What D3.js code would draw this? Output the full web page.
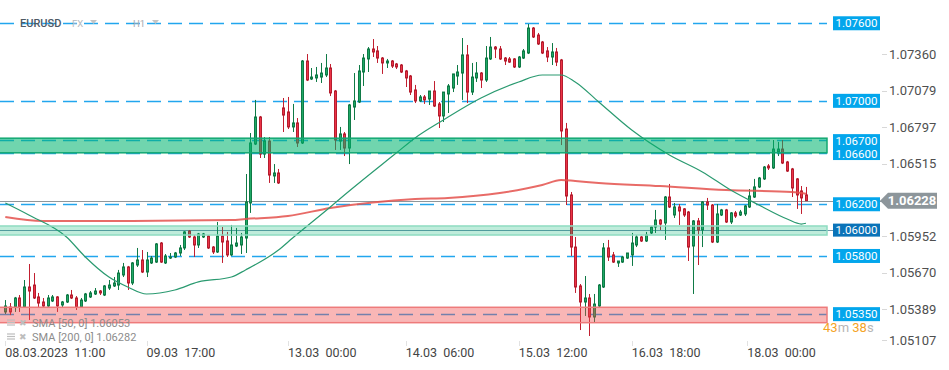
<!DOCTYPE html>
<html>
<head>
<meta charset="utf-8">
<script src="https://cdn.jsdelivr.net/npm/d3@7"></script>
<style>
  body { margin: 0; background: #ffffff; }
  svg { display: block; font-family: Roboto, "Noto Sans", sans-serif; }
</style>
</head>
<body>
<div id="chart"></div>
<script>
// EURUSD H1, candle 0 = 08.03.2023 11:00
const opens = [
  1.05367, 1.05405, 1.05405, 1.05475, 1.05405, 1.05560, 1.05575, 1.05483, 1.05444, 1.05413,
  1.05452, 1.05483, 1.05421, 1.05444, 1.05498, 1.05475, 1.05405, 1.05452, 1.05483, 1.05506,
  1.05529, 1.05498, 1.05552, 1.05568, 1.05575, 1.05653, 1.05715, 1.05591, 1.05730, 1.05769,
  1.05676, 1.05746, 1.05753, 1.05900, 1.05746, 1.05784, 1.05792, 1.05823, 1.05862, 1.05993,
  1.05947, 1.05885, 1.05947, 1.05955, 1.05869, 1.05831, 1.05955, 1.05916, 1.05808, 1.05877,
  1.05885, 1.05939, 1.06210, 1.06666, 1.06875, 1.06589, 1.06689, 1.06419, 1.06442, 1.06945,
  1.06914, 1.06798, 1.06829, 1.06674, 1.07308, 1.07169, 1.07177, 1.07184, 1.07200, 1.07254,
  1.07076, 1.06689, 1.06744, 1.06635, 1.06952, 1.06991, 1.07223, 1.07324, 1.07401, 1.07386,
  1.07331, 1.07293, 1.07308, 1.07285, 1.07277, 1.07231, 1.07192, 1.07084, 1.06999, 1.07030,
  1.07014, 1.07076, 1.06976, 1.06883, 1.07053, 1.07099, 1.07192, 1.07215, 1.07355, 1.07068,
  1.07177, 1.07215, 1.07161, 1.07324, 1.07416, 1.07401, 1.07331, 1.07324, 1.07324, 1.07262,
  1.07331, 1.07370, 1.07563, 1.07509, 1.07455, 1.07386, 1.07339, 1.07378, 1.07316, 1.06782,
  1.06272, 1.05869, 1.05568, 1.05444, 1.05475, 1.05328, 1.05413, 1.05560, 1.05862, 1.05808,
  1.05746, 1.05753, 1.05784, 1.05808, 1.05885, 1.05947, 1.05916, 1.05978, 1.06024, 1.06078,
  1.06055, 1.06256, 1.06117, 1.06179, 1.06164, 1.06140, 1.05877, 1.06071, 1.06001, 1.06218,
  1.06194, 1.05908, 1.06117, 1.06156, 1.06063, 1.06133, 1.06117, 1.06125, 1.06179, 1.06256,
  1.06334, 1.06396, 1.06496, 1.06481, 1.06604, 1.06627, 1.06527, 1.06473, 1.06396, 1.06303,
  1.06272
];
const highs = [
  1.05459, 1.05436, 1.05483, 1.05498, 1.05614, 1.05738, 1.05668, 1.05514, 1.05475, 1.05498,
  1.05498, 1.05490, 1.05452, 1.05506, 1.05537, 1.05490, 1.05475, 1.05514, 1.05529, 1.05552,
  1.05537, 1.05575, 1.05614, 1.05637, 1.05692, 1.05746, 1.05723, 1.05753, 1.05862, 1.05846,
  1.05831, 1.05800, 1.05900, 1.05908, 1.05815, 1.05823, 1.05831, 1.05885, 1.05993, 1.06001,
  1.05962, 1.05978, 1.05978, 1.05962, 1.05877, 1.06063, 1.06024, 1.05986, 1.06040, 1.06017,
  1.05978, 1.06434, 1.06751, 1.07007, 1.06883, 1.06720, 1.06720, 1.06511, 1.06473, 1.07022,
  1.07030, 1.06976, 1.06867, 1.07316, 1.07362, 1.07254, 1.07262, 1.07293, 1.07362, 1.07285,
  1.07084, 1.06798, 1.06759, 1.06976, 1.07215, 1.07277, 1.07362, 1.07416, 1.07478, 1.07424,
  1.07339, 1.07324, 1.07316, 1.07293, 1.07285, 1.07239, 1.07200, 1.07123, 1.07045, 1.07045,
  1.07076, 1.07153, 1.06991, 1.07068, 1.07130, 1.07208, 1.07277, 1.07486, 1.07432, 1.07293,
  1.07300, 1.07223, 1.07424, 1.07494, 1.07424, 1.07424, 1.07339, 1.07339, 1.07331, 1.07347,
  1.07401, 1.07594, 1.07571, 1.07525, 1.07463, 1.07416, 1.07447, 1.07409, 1.07324, 1.06829,
  1.06295, 1.05947, 1.05583, 1.05645, 1.05506, 1.05506, 1.05583, 1.05900, 1.05924, 1.05831,
  1.05761, 1.05800, 1.05823, 1.05978, 1.05962, 1.05955, 1.05986, 1.06032, 1.06156, 1.06086,
  1.06264, 1.06357, 1.06210, 1.06202, 1.06171, 1.06148, 1.06078, 1.06094, 1.06225, 1.06249,
  1.06202, 1.06202, 1.06164, 1.06164, 1.06140, 1.06148, 1.06156, 1.06194, 1.06318, 1.06396,
  1.06411, 1.06496, 1.06511, 1.06697, 1.06682, 1.06697, 1.06535, 1.06481, 1.06403, 1.06341,
  1.06334
];
const lows = [
  1.05351, 1.05343, 1.05367, 1.05367, 1.05398, 1.05305, 1.05467, 1.05405, 1.05405, 1.05405,
  1.05444, 1.05367, 1.05398, 1.05436, 1.05467, 1.05382, 1.05398, 1.05444, 1.05475, 1.05498,
  1.05498, 1.05490, 1.05537, 1.05560, 1.05537, 1.05637, 1.05537, 1.05575, 1.05715, 1.05668,
  1.05637, 1.05738, 1.05746, 1.05746, 1.05738, 1.05777, 1.05784, 1.05800, 1.05846, 1.05939,
  1.05792, 1.05862, 1.05939, 1.05854, 1.05815, 1.05823, 1.05746, 1.05792, 1.05800, 1.05869,
  1.05815, 1.05823, 1.06133, 1.06658, 1.06558, 1.06558, 1.06365, 1.06365, 1.06357, 1.06759,
  1.06782, 1.06759, 1.06643, 1.06666, 1.07153, 1.07161, 1.07146, 1.07138, 1.07184, 1.07037,
  1.06620, 1.06620, 1.06573, 1.06511, 1.06852, 1.06983, 1.07115, 1.07223, 1.07339, 1.07293,
  1.07208, 1.07254, 1.07254, 1.07246, 1.07215, 1.07107, 1.07045, 1.06983, 1.06991, 1.06976,
  1.06968, 1.06952, 1.06790, 1.06836, 1.06906, 1.07068, 1.07123, 1.07007, 1.06983, 1.07045,
  1.07146, 1.07099, 1.07146, 1.07316, 1.07331, 1.07316, 1.07277, 1.07293, 1.07254, 1.07254,
  1.07324, 1.07362, 1.07486, 1.07432, 1.07362, 1.07300, 1.07277, 1.07269, 1.06658, 1.06194,
  1.05800, 1.05514, 1.05227, 1.05336, 1.05181, 1.05282, 1.05405, 1.05552, 1.05761, 1.05746,
  1.05715, 1.05746, 1.05777, 1.05723, 1.05869, 1.05908, 1.05908, 1.05970, 1.05978, 1.06001,
  1.05924, 1.06171, 1.06094, 1.06040, 1.06102, 1.05761, 1.05506, 1.05730, 1.05869, 1.06156,
  1.05900, 1.05900, 1.06109, 1.06055, 1.06047, 1.06094, 1.06109, 1.06109, 1.06171, 1.06249,
  1.06326, 1.06388, 1.06465, 1.06473, 1.06573, 1.06511, 1.06450, 1.06256, 1.06164, 1.06125,
  1.06225
];
const closes = [
  1.05413, 1.05367, 1.05475, 1.05405, 1.05560, 1.05529, 1.05475, 1.05436, 1.05413, 1.05475,
  1.05483, 1.05413, 1.05444, 1.05498, 1.05475, 1.05405, 1.05459, 1.05506, 1.05514, 1.05529,
  1.05514, 1.05568, 1.05575, 1.05591, 1.05668, 1.05715, 1.05591, 1.05746, 1.05769, 1.05676,
  1.05769, 1.05784, 1.05893, 1.05753, 1.05800, 1.05792, 1.05823, 1.05862, 1.05986, 1.05947,
  1.05885, 1.05970, 1.05970, 1.05862, 1.05831, 1.05955, 1.05908, 1.05808, 1.05885, 1.05900,
  1.05947, 1.06218, 1.06674, 1.06875, 1.06589, 1.06689, 1.06426, 1.06442, 1.06365, 1.06890,
  1.06798, 1.06829, 1.06674, 1.07308, 1.07161, 1.07184, 1.07200, 1.07215, 1.07254, 1.07061,
  1.06697, 1.06744, 1.06635, 1.06968, 1.06999, 1.07231, 1.07331, 1.07401, 1.07378, 1.07331,
  1.07293, 1.07308, 1.07269, 1.07262, 1.07223, 1.07177, 1.07068, 1.06999, 1.07030, 1.07007,
  1.07076, 1.06960, 1.06883, 1.07068, 1.07115, 1.07208, 1.07223, 1.07355, 1.07068, 1.07184,
  1.07215, 1.07161, 1.07331, 1.07416, 1.07401, 1.07324, 1.07308, 1.07300, 1.07262, 1.07339,
  1.07386, 1.07563, 1.07494, 1.07440, 1.07370, 1.07339, 1.07378, 1.07300, 1.06767, 1.06264,
  1.05869, 1.05560, 1.05444, 1.05475, 1.05328, 1.05428, 1.05575, 1.05862, 1.05792, 1.05753,
  1.05761, 1.05792, 1.05823, 1.05900, 1.05947, 1.05916, 1.05962, 1.06024, 1.06078, 1.06047,
  1.06256, 1.06179, 1.06179, 1.06148, 1.06117, 1.05869, 1.06071, 1.06001, 1.06218, 1.06194,
  1.05908, 1.06125, 1.06156, 1.06063, 1.06133, 1.06109, 1.06140, 1.06187, 1.06264, 1.06334,
  1.06403, 1.06488, 1.06481, 1.06627, 1.06627, 1.06519, 1.06457, 1.06326, 1.06272, 1.06249,
  1.06228
];

// moving averages (candle index, value)
const sma50Idx = [0, 5, 13, 17, 22, 26, 30, 36, 41, 48, 51, 58, 61, 69, 71, 83, 87, 93, 101, 109, 114, 118, 121, 126, 133, 141, 148, 154, 160, 166, 169, 170];
const sma50Val = [1.06210, 1.06117, 1.05947, 1.05792, 1.05637, 1.05560, 1.05506, 1.05537, 1.05599, 1.05637, 1.05692, 1.05846, 1.05939, 1.06179, 1.06241, 1.06596, 1.06713, 1.06852, 1.07022, 1.07146, 1.07200, 1.07200, 1.07146, 1.06991, 1.06774, 1.06581, 1.06450, 1.06310, 1.06194, 1.06086, 1.06047, 1.06053];
const sma200Idx = [0, 8, 27, 48, 51, 60, 69, 87, 94, 105, 114, 118, 121, 126, 139, 153, 167, 170];
const sma200Val = [1.06102, 1.06071, 1.06071, 1.06078, 1.06086, 1.06109, 1.06171, 1.06241, 1.06249, 1.06287, 1.06349, 1.06388, 1.06380, 1.06365, 1.06341, 1.06310, 1.06295, 1.06282];

const levelPrices = [1.076, 1.070, 1.067, 1.066, 1.062, 1.058, 1.0535];
const alertPrice = 1.060;
const lastPrice = 1.06228;
const zoneGreen = [1.06711, 1.06598];
const zoneLight = [1.06032, 1.05962];
const zoneRed = [1.05403, 1.05284];

const priceTicks = [1.07360, 1.07079, 1.06797, 1.06515, 1.05952, 1.05670, 1.05389, 1.05107];
const dateTicks = [0, 30, 60, 85, 109, 133, 157.5];
const dateLabels = ["08.03.2023  11:00", "09.03  17:00", "13.03  00:00", "14.03  06:00", "15.03  12:00", "16.03  18:00", "18.03  00:00"];

const W = 949, H = 370;
const plotRight = 827;
const fmt = d3.format(".5f");

const svg = d3.select("#chart").append("svg")
    .attr("width", W)
    .attr("height", H);

const x = d3.scaleLinear().domain([0, opens.length - 1]).range([5.3, 806]);
const y = d3.scaleLinear().domain([1.0515, 1.0778]).range([340, 0]);
const py = v => Math.round(y(v)) + 0.5;

// dashed price levels
svg.append("g").selectAll("line")
    .data(levelPrices)
    .join("line")
    .attr("x1", 0).attr("x2", plotRight)
    .attr("y1", py).attr("y2", py)
    .attr("stroke", "#22a6ee")
    .attr("stroke-width", 1.5)
    .attr("stroke-dasharray", "14,7");

// alert line at 1.06 and current price line
svg.append("line")
    .attr("x1", 0).attr("x2", 833)
    .attr("y1", py(alertPrice)).attr("y2", py(alertPrice))
    .attr("stroke", "#6d95ad").attr("stroke-width", 1);
svg.append("line")
    .attr("x1", 0).attr("x2", 882)
    .attr("y1", py(lastPrice)).attr("y2", py(lastPrice))
    .attr("stroke", "#8d969b").attr("stroke-width", 1);

// candles
const candles = d3.range(opens.length).map(i => ({
    i, o: opens[i], h: highs[i], l: lows[i], c: closes[i], up: closes[i] >= opens[i]
}));

const cg = svg.append("g").classed("candles", true);
cg.selectAll("line")
    .data(candles)
    .join("line")
    .attr("x1", d => Math.round(x(d.i)) + 0.5)
    .attr("x2", d => Math.round(x(d.i)) + 0.5)
    .attr("y1", d => y(d.h))
    .attr("y2", d => y(d.l))
    .attr("stroke", d => d.up ? "#0f7a46" : "#c21f30")
    .attr("stroke-width", 1);

cg.selectAll("rect")
    .data(candles)
    .join("rect")
    .attr("x", d => Math.round(x(d.i)) - 0.5)
    .attr("width", 2)
    .attr("y", d => y(Math.max(d.o, d.c)))
    .attr("height", d => Math.max(0.5, Math.abs(y(d.o) - y(d.c))))
    .attr("fill", d => d.up ? "#1fa866" : "#ec3346")
    .attr("stroke", d => d.up ? "#0f7a46" : "#b51d2e")
    .attr("stroke-width", 1);

// moving averages
const smaLine = d3.line()
    .x(d => x(d[0]))
    .y(d => y(d[1]))
    .curve(d3.curveMonotoneX);

svg.append("path")
    .attr("d", smaLine(d3.zip(sma200Idx, sma200Val)))
    .attr("fill", "none")
    .attr("stroke", "#e4514c")
    .attr("stroke-opacity", 0.85)
    .attr("stroke-width", 2);

svg.append("path")
    .attr("d", smaLine(d3.zip(sma50Idx, sma50Val)))
    .attr("fill", "none")
    .attr("stroke", "#2a9a70")
    .attr("stroke-width", 1.2);

// zones on top of candles
const zones = [
    { p: zoneGreen, fill: "#00b46e", op: 0.56, stroke: "#12a872" },
    { p: zoneLight, fill: "#00b46e", op: 0.25, stroke: "#8fdcc2" },
    { p: zoneRed, fill: "#f04848", op: 0.4, stroke: "#ee7b7b" }
];
svg.append("g").selectAll("rect")
    .data(zones)
    .join("rect")
    .attr("x", -1)
    .attr("width", plotRight + 1)
    .attr("y", d => y(d.p[0]))
    .attr("height", d => y(d.p[1]) - y(d.p[0]))
    .attr("fill", d => d.fill)
    .attr("fill-opacity", d => d.op)
    .attr("stroke", d => d.stroke)
    .attr("stroke-width", 1.5);

// right price axis
const axisG = svg.append("g");
priceTicks.forEach(v => {
    const ty = Math.min(y(v), 340);
    axisG.append("line")
        .attr("x1", 882).attr("x2", 887)
        .attr("y1", Math.round(ty) + 0.5).attr("y2", Math.round(ty) + 0.5)
        .attr("stroke", "#d8d8d8");
    axisG.append("text")
        .attr("x", 889).attr("y", ty)
        .attr("dy", "0.36em")
        .attr("font-size", 13)
        .attr("fill", "#4f4f4f")
        .text(fmt(v));
});

// level label boxes
const boxW = 47, boxX = 833;
const singleLevels = [1.076, 1.070, 1.062, 1.058, 1.0535];
const lbl = svg.append("g");
singleLevels.forEach(v => {
    lbl.append("rect")
        .attr("x", boxX).attr("y", y(v) - 7)
        .attr("width", boxW).attr("height", 14)
        .attr("fill", "#03a6ec");
    lbl.append("text")
        .attr("x", boxX + boxW / 2).attr("y", y(v))
        .attr("dy", "0.36em")
        .attr("text-anchor", "middle")
        .attr("font-size", 11.5)
        .attr("fill", "#ffffff")
        .text(fmt(v));
});
// combined box for 1.067 / 1.066
lbl.append("rect")
    .attr("x", boxX).attr("y", y(1.067) - 5.5)
    .attr("width", boxW).attr("height", y(1.066) - y(1.067) + 13)
    .attr("fill", "#03a6ec");
[1.067, 1.066].forEach(v => {
    lbl.append("text")
        .attr("x", boxX + boxW / 2).attr("y", y(v) + 1)
        .attr("dy", "0.36em")
        .attr("text-anchor", "middle")
        .attr("font-size", 11.5)
        .attr("fill", "#ffffff")
        .text(fmt(v));
});
// alert label
lbl.append("rect")
    .attr("x", boxX).attr("y", y(alertPrice) - 6.5)
    .attr("width", boxW).attr("height", 13)
    .attr("fill", "#0a73b8");
lbl.append("text")
    .attr("x", boxX + boxW / 2).attr("y", y(alertPrice))
    .attr("dy", "0.36em")
    .attr("text-anchor", "middle")
    .attr("font-size", 11.5)
    .attr("fill", "#ffffff")
    .text(fmt(alertPrice));

// current price tag
const ly = y(lastPrice);
lbl.append("path")
    .attr("d", `M880,${ly} L888,${ly - 8} L937,${ly - 8} L937,${ly + 8} L888,${ly + 8} Z`)
    .attr("fill", "#8d969b");
lbl.append("text")
    .attr("x", 912).attr("y", ly)
    .attr("dy", "0.36em")
    .attr("text-anchor", "middle")
    .attr("font-size", 13)
    .attr("font-weight", "bold")
    .attr("fill", "#ffffff")
    .text(fmt(lastPrice));

// countdown
const cd = svg.append("text")
    .attr("x", 823).attr("y", 332)
    .attr("font-size", 13);
cd.append("tspan").attr("fill", "#f5a425").text("43");
cd.append("tspan").attr("fill", "#b5b5b5").text("m ");
cd.append("tspan").attr("fill", "#f5a425").text("38");
cd.append("tspan").attr("fill", "#b5b5b5").text("s");

// time axis
const tg = svg.append("g");
dateTicks.forEach((t, k) => {
    const tx = Math.round(x(t)) + 0.5;
    tg.append("line")
        .attr("x1", tx).attr("x2", tx)
        .attr("y1", 341).attr("y2", 346)
        .attr("stroke", "#e2e2e2");
    tg.append("text")
        .attr("x", x(t)).attr("y", 357)
        .attr("font-size", 12.5)
        .attr("fill", "#444")
        .style("white-space", "pre")
        .text(dateLabels[k]);
});

// top-left title
const title = svg.append("g");
title.append("text")
    .attr("x", 20).attr("y", 27)
    .attr("font-size", 11).attr("font-weight", 500)
    .attr("fill", "#4d5965")
    .text("EURUSD");
title.append("text")
    .attr("x", 72).attr("y", 27)
    .attr("font-size", 9.5)
    .attr("fill", "#b4b9be")
    .text("FX");
title.append("text")
    .attr("x", 133).attr("y", 27)
    .attr("font-size", 9.5)
    .attr("fill", "#a3a8ad")
    .text("H1");
[90, 152].forEach(tx => {
    title.append("path")
        .attr("d", `M${tx},20 L${tx + 7},20 L${tx + 3.5},24 Z`)
        .attr("fill", "#c4c4c4");
});

// indicator legend
const legend = svg.append("g");
[["SMA [50, 0] 1.06053", 323], ["SMA [200, 0] 1.06282", 337]].forEach(([t, ly2]) => {
    for (let r = 0; r < 3; r++) {
        legend.append("line")
            .attr("x1", 7).attr("x2", 15)
            .attr("y1", ly2 - 3 + r * 2.5).attr("y2", ly2 - 3 + r * 2.5)
            .attr("stroke", "#bdbdbd").attr("stroke-width", 1.2);
    }
    legend.append("text")
        .attr("x", 19).attr("y", ly2)
        .attr("dy", "0.36em")
        .attr("font-size", 9)
        .attr("fill", "#bdbdbd")
        .text("\u2716");
    legend.append("text")
        .attr("x", 32).attr("y", ly2)
        .attr("dy", "0.36em")
        .attr("font-size", 11)
        .attr("fill", "#8c8c8c")
        .style("white-space", "pre")
        .text(t);
});
</script>
</body>
</html>
